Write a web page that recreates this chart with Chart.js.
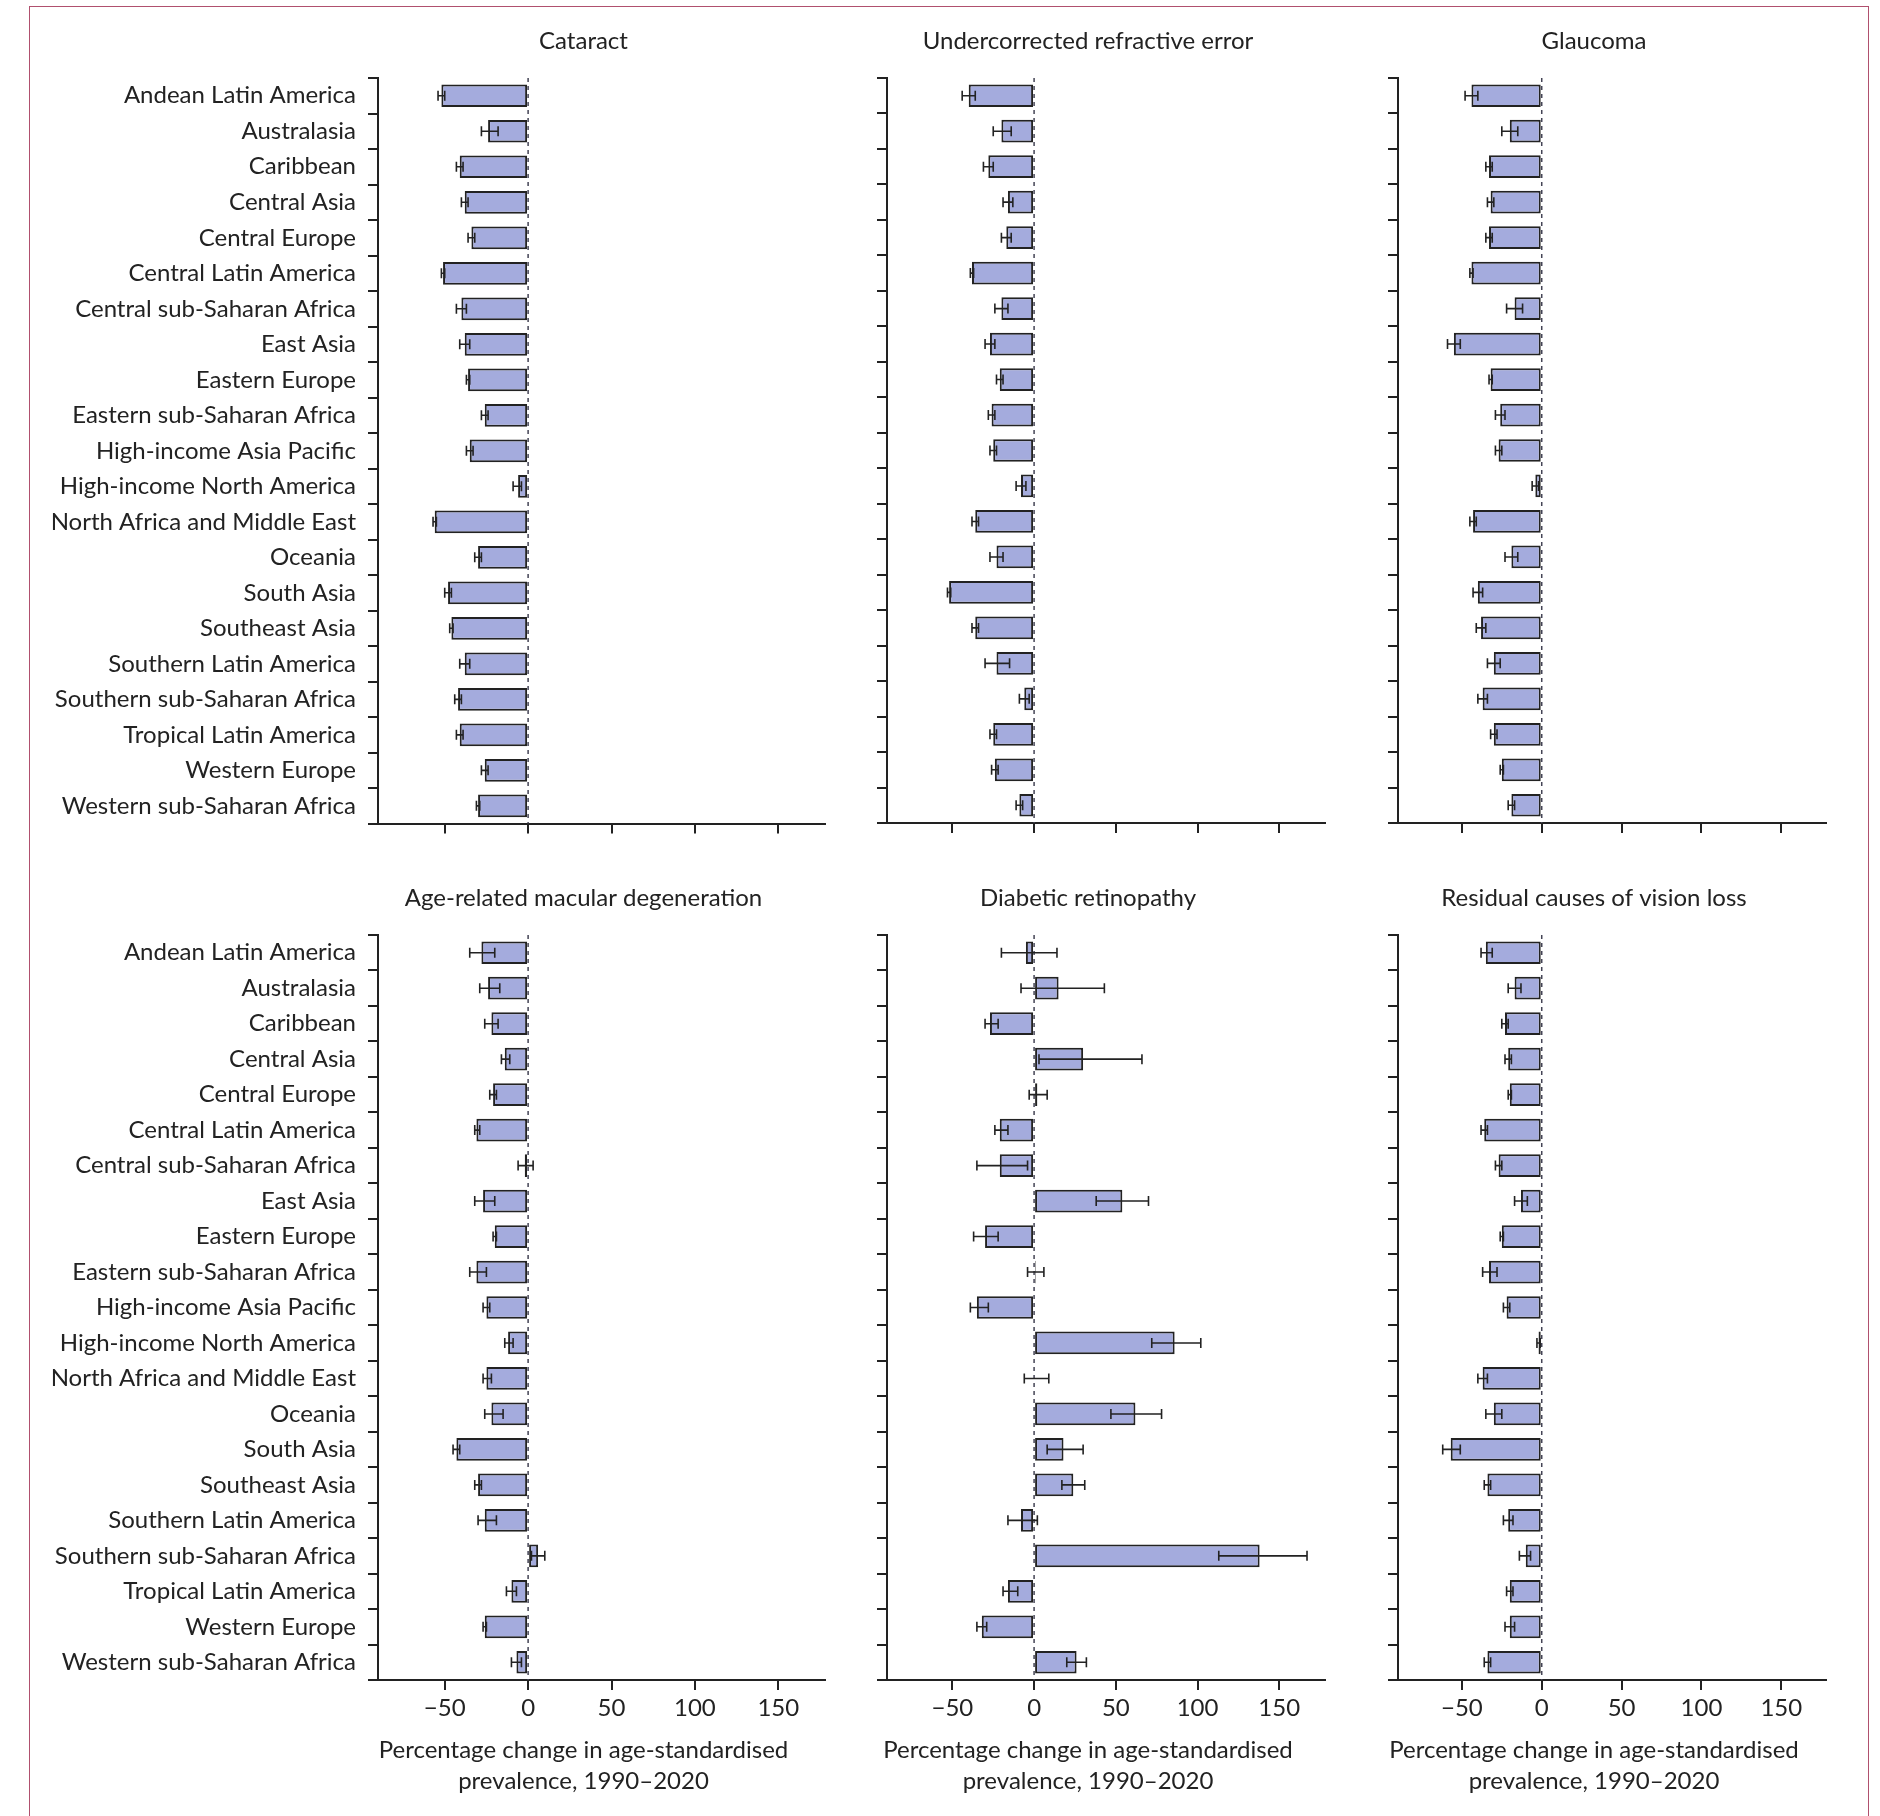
<!DOCTYPE html>
<html><head><meta charset="utf-8">
<script src="https://cdn.jsdelivr.net/npm/chart.js@4"></script>
<style>
body{margin:0;background:#fff;width:1880px;height:1816px;position:relative;overflow:hidden}
#frame{position:absolute;left:29px;top:6px;width:1840px;height:1812px;border:1.5px solid #b0506e;box-sizing:border-box}
.p{position:absolute}
</style></head><body>
<div id="frame"></div>
<div class="p" style="left:36px;top:0px;width:810px;height:850px"><canvas id="c0"></canvas></div>
<div class="p" style="left:850px;top:0px;width:496px;height:840px"><canvas id="c1"></canvas></div>
<div class="p" style="left:1361px;top:0px;width:486px;height:840px"><canvas id="c2"></canvas></div>
<div class="p" style="left:36px;top:856px;width:810px;height:950px"><canvas id="c3"></canvas></div>
<div class="p" style="left:850px;top:856px;width:496px;height:950px"><canvas id="c4"></canvas></div>
<div class="p" style="left:1361px;top:856px;width:486px;height:950px"><canvas id="c5"></canvas></div>
<script>
const regions=["Andean Latin America","Australasia","Caribbean","Central Asia","Central Europe","Central Latin America","Central sub-Saharan Africa","East Asia","Eastern Europe","Eastern sub-Saharan Africa","High-income Asia Pacific","High-income North America","North Africa and Middle East","Oceania","South Asia","Southeast Asia","Southern Latin America","Southern sub-Saharan Africa","Tropical Latin America","Western Europe","Western sub-Saharan Africa"];
const xTicks=[-50,0,50,100,150];
const titles=["Cataract","Undercorrected refractive error","Glaucoma","Age-related macular degeneration","Diabetic retinopathy","Residual causes of vision loss"];
const xTitle=["Percentage change in age-standardised","prevalence, 1990–2020"];

const cataract=[-52,-24,-41,-38,-34,-51,-40,-38,-36,-26,-35,-6,-56,-30,-48,-46,-38,-42,-41,-26,-30];
const cataractLo=[-54,-28,-43,-40,-36,-52,-43,-41,-37,-28,-37,-9,-57,-32,-50,-47,-41,-44,-43,-28,-31];
const cataractHi=[-50,-18,-39,-36,-32,-50,-37,-35,-35,-24,-33,-4,-55,-28,-46,-45,-35,-40,-39,-24,-29];

const refractive=[-40,-20,-28,-16,-17,-38,-20,-27,-21,-26,-25,-8,-36,-23,-52,-36,-23,-6,-25,-24,-9];
const refractiveLo=[-44,-25,-31,-19,-20,-39,-24,-30,-23,-28,-27,-11,-38,-27,-53,-38,-30,-9,-27,-26,-11];
const refractiveHi=[-36,-14,-25,-13,-14,-37,-16,-24,-19,-24,-23,-5,-34,-19,-51,-34,-15,-3,-23,-22,-7];

const glaucoma=[-44,-20,-33,-32,-33,-44,-17,-55,-32,-26,-27,-4,-43,-19,-40,-38,-30,-37,-30,-25,-19];
const glaucomaLo=[-48,-25,-35,-34,-35,-45,-22,-59,-33,-29,-29,-6,-45,-23,-43,-41,-34,-40,-32,-26,-21];
const glaucomaHi=[-40,-15,-31,-30,-31,-43,-12,-51,-31,-23,-25,-2,-41,-15,-37,-35,-26,-34,-28,-24,-17];

const amd=[-28,-24,-22,-14,-21,-31,-2,-27,-20,-31,-25,-12,-25,-22,-43,-30,-26,6,-10,-26,-7];
const amdLo=[-35,-29,-26,-16,-23,-32,-6,-32,-21,-35,-27,-14,-27,-26,-45,-32,-30,2,-13,-27,-10];
const amdHi=[-20,-17,-18,-11,-19,-29,3,-20,-19,-25,-23,-9,-22,-15,-41,-28,-19,10,-7,-25,-4];

const dr=[-5,15,-27,30,2,-21,-21,54,-30,1,-35,86,0,62,18,24,-8,138,-16,-32,26];
const drLo=[-20,-8,-30,3,-3,-24,-35,38,-37,-4,-39,72,-6,47,8,17,-16,113,-19,-35,20];
const drHi=[14,43,-22,66,8,-16,-4,70,-22,6,-28,102,9,78,30,31,2,167,-10,-29,32];

const residual=[-35,-17,-23,-21,-20,-36,-27,-13,-25,-33,-22,-2,-37,-30,-57,-34,-21,-10,-20,-20,-34];
const residualLo=[-38,-21,-25,-23,-21,-38,-29,-17,-26,-37,-24,-3,-40,-35,-62,-36,-24,-14,-22,-23,-36];
const residualHi=[-31,-13,-21,-19,-19,-34,-25,-9,-24,-28,-20,-1,-34,-25,-51,-32,-18,-7,-18,-17,-32];

const series=[[cataract,cataractLo,cataractHi],[refractive,refractiveLo,refractiveHi],[glaucoma,glaucomaLo,glaucomaHi],[amd,amdLo,amdHi],[dr,drLo,drHi],[residual,residualLo,residualHi]];
const FONT='Lato, "Open Sans", sans-serif';
const INK='#222';

const extras={id:'extras',
 afterDatasetsDraw(ch){
  const ctx=ch.ctx,x=ch.scales.x,y=ch.scales.y,[v,lo,hi]=ch.$ser;
  const a=ch.chartArea;
  ctx.save();
  ctx.strokeStyle='#445';ctx.lineWidth=1.5;ctx.setLineDash([4,4]);
  ctx.beginPath();ctx.moveTo(x.getPixelForValue(0),a.top);ctx.lineTo(x.getPixelForValue(0),a.bottom);ctx.stroke();
  ctx.setLineDash([]);ctx.strokeStyle=INK;ctx.lineWidth=1.6;
  for(let i=0;i<v.length;i++){
   const py=y.getPixelForValue(i),l=x.getPixelForValue(lo[i]),h=x.getPixelForValue(hi[i]);
   ctx.beginPath();ctx.moveTo(l,py);ctx.lineTo(h,py);
   ctx.moveTo(l,py-5);ctx.lineTo(l,py+5);ctx.moveTo(h,py-5);ctx.lineTo(h,py+5);ctx.stroke();
  }
  ctx.fillStyle=INK;ctx.font='24px '+FONT;ctx.textAlign='center';ctx.textBaseline='middle';
  const cx=(a.left+a.right)/2-18;
  ctx.fillText(ch.$title,cx,a.top-37);
  if(ch.$bottom){
   ctx.fillText(xTitle[0],cx,a.bottom+70);
   ctx.fillText(xTitle[1],cx,a.bottom+101);
  }
  ctx.restore();
 }};

function make(idx){
 const bottom=idx>=3, col=idx%3;
 const [v]=series[idx];
 const xh=bottom?126:17;
 new Chart(document.getElementById('c'+idx),{
  type:'bar',
  data:{labels:regions,datasets:[{data:v,backgroundColor:'#a4abdd',borderColor:INK,borderWidth:2,borderSkipped:false,categoryPercentage:1,barPercentage:0.64}]},
  options:{indexAxis:'y',responsive:true,maintainAspectRatio:false,animation:false,
   layout:{autoPadding:false,padding:{right:21,top:bottom?79:78,bottom:0}},
   plugins:{legend:{display:false},tooltip:{enabled:false},title:{display:false}},
   scales:{
    y:{border:{color:INK,width:2},grid:{offset:true,drawOnChartArea:false,tickLength:10,color:INK,lineWidth:2},
     ticks:{display:col===0,color:INK,font:{family:FONT,size:24},padding:12},
     afterFit(ax){ax.width=col===0?342:37;}},
    x:{min:-90,max:178,border:{color:INK,width:2},
     grid:{drawOnChartArea:false,tickLength:10,color:INK,lineWidth:2},
     afterBuildTicks(ax){ax.ticks=xTicks.map(t=>({value:t}));},
     ticks:{display:true,color:bottom?INK:'rgba(0,0,0,0)',font:{family:FONT,size:24},padding:4,callback:(t)=>String(t).replace('-','−')},
     afterFit(ax){ax.height=xh;}}
   }},
  plugins:[extras,{id:'s',beforeInit(c){c.$ser=series[idx];c.$title=titles[idx];c.$bottom=bottom;}}]
 });
}
for(let i=0;i<6;i++)make(i);
</script></body></html>
